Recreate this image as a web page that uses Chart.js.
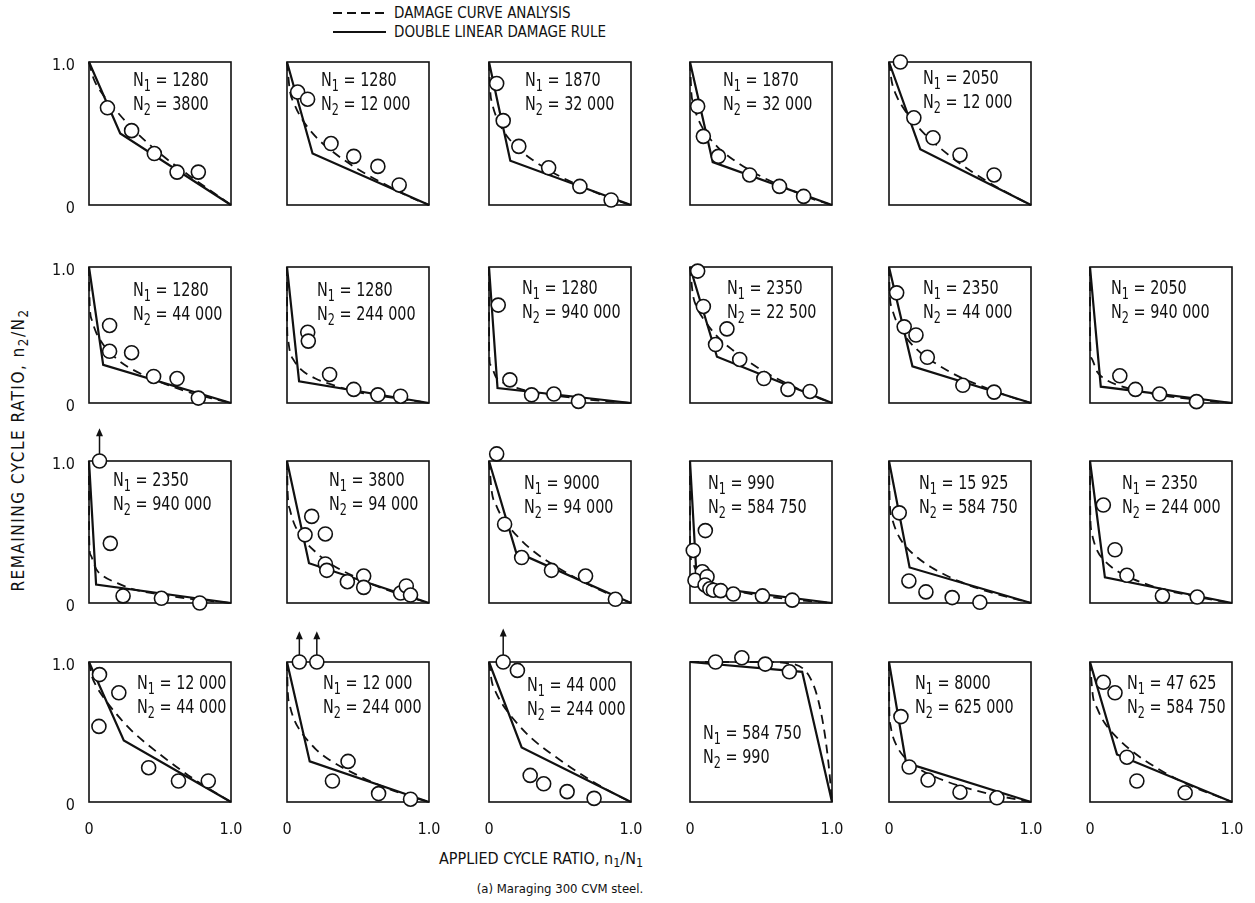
<!DOCTYPE html>
<html>
<head>
<meta charset="utf-8">
<script src="https://cdn.jsdelivr.net/npm/chart.js@4.4.1/dist/chart.umd.min.js"></script>
<style>
  body { margin: 0; width: 1255px; height: 903px; position: relative; overflow: hidden; background: #fff;
         font-family: 'Liberation Sans Narrow', 'DejaVu Sans Condensed', sans-serif; color: #111; }
  canvas { position: absolute; }
  .note { position: absolute; font-size: 20px; line-height: 24px; white-space: nowrap;
          transform: scaleX(0.8); transform-origin: left top; }
  .note sub, .title sub { font-size: 78%; vertical-align: -0.3em; line-height: 0; }
  .key { position: absolute; left: 333px; height: 18px; display: flex; align-items: center; font-size: 15px; white-space: nowrap; }
  .key svg { margin-right: 8px; }
  .title { position: absolute; font-size: 16px; white-space: nowrap; transform: translate(-50%, -50%); }
</style>
</head>
<body>

<div class="key" style="top:4px"><svg width="53" height="4"><line x1="0" y1="2" x2="53" y2="2" stroke="#111" stroke-width="1.8" stroke-dasharray="9 5"/></svg>DAMAGE CURVE ANALYSIS</div>
<div class="key" style="top:23px"><svg width="53" height="4"><line x1="0" y1="2" x2="53" y2="2" stroke="#111" stroke-width="2"/></svg>DOUBLE LINEAR DAMAGE RULE</div>

<div class="title" style="left:541px; top:858px">APPLIED CYCLE RATIO, n<sub>1</sub>/N<sub>1</sub></div>
<div class="title" style="left:18px; top:450px; font-size:17px; letter-spacing:1.5px; transform: translate(-50%, -50%) rotate(-90deg)">REMAINING CYCLE RATIO, n<sub>2</sub>/N<sub>2</sub></div>
<div class="title" style="left:560px; top:888px; font-size:13px">(a) Maraging 300 CVM steel.</div>

<script>
// one entry per panel, left to right, top to bottom
const panelN1 = ['1280', '1280', '1870', '1870', '2050',
  '1280', '1280', '1280', '2350', '2350', '2050',
  '2350', '3800', '9000', '990', '15 925', '2350',
  '12 000', '12 000', '44 000', '584 750', '8000', '47 625'];
const panelN2 = ['3800', '12 000', '32 000', '32 000', '12 000',
  '44 000', '244 000', '940 000', '22 500', '44 000', '940 000',
  '940 000', '94 000', '94 000', '584 750', '584 750', '244 000',
  '44 000', '244 000', '244 000', '990', '625 000', '584 750'];

// double linear damage rule: (0,1) -> knee -> (1,0)
const dldrKnee = [[0.22, 0.50], [0.18, 0.36], [0.15, 0.31], [0.16, 0.30], [0.22, 0.39],
  [0.10, 0.28], [0.085, 0.16], [0.06, 0.11], [0.19, 0.34], [0.165, 0.27], [0.076, 0.12],
  [0.05, 0.13], [0.155, 0.28], [0.19, 0.36], [0.05, 0.12], [0.145, 0.25], [0.105, 0.18],
  [0.245, 0.44], [0.16, 0.29], [0.23, 0.39], [0.79, 0.93], [0.12, 0.28], [0.19, 0.34]];

// damage curve analysis
const dcaCurve = [
  [[0, 1], [0.03, 0.89], [0.1, 0.77], [0.2, 0.65], [0.3, 0.54], [0.5, 0.36], [0.7, 0.21], [0.9, 0.07], [1, 0]],
  [[0, 1], [0.02, 0.80], [0.05, 0.71], [0.1, 0.61], [0.2, 0.48], [0.3, 0.39], [0.5, 0.25], [0.7, 0.14], [0.9, 0.04], [1, 0]],
  [[0, 1], [0.01, 0.78], [0.02, 0.72], [0.05, 0.62], [0.1, 0.52], [0.2, 0.40], [0.3, 0.32], [0.5, 0.20], [0.7, 0.11], [0.9, 0.03], [1, 0]],
  [[0, 1], [0.01, 0.78], [0.02, 0.72], [0.05, 0.62], [0.1, 0.52], [0.2, 0.40], [0.3, 0.32], [0.5, 0.20], [0.7, 0.11], [0.9, 0.03], [1, 0]],
  [[0, 1], [0.02, 0.86], [0.05, 0.77], [0.1, 0.68], [0.2, 0.55], [0.3, 0.45], [0.5, 0.29], [0.7, 0.16], [0.9, 0.05], [1, 0]],
  [[0, 1], [0.005, 0.72], [0.02, 0.61], [0.05, 0.52], [0.1, 0.43], [0.2, 0.32], [0.3, 0.25], [0.5, 0.155], [0.7, 0.08], [0.9, 0.025], [1, 0]],
  [[0, 1], [0.001, 0.57], [0.005, 0.48], [0.02, 0.38], [0.05, 0.31], [0.1, 0.245], [0.2, 0.18], [0.3, 0.14], [0.5, 0.08], [0.7, 0.045], [0.9, 0.015], [1, 0]],
  [[0, 1], [0.001, 0.39], [0.01, 0.28], [0.05, 0.19], [0.1, 0.15], [0.2, 0.11], [0.3, 0.08], [0.5, 0.05], [0.7, 0.025], [0.9, 0.007], [1, 0]],
  [[0, 1], [0.02, 0.80], [0.05, 0.70], [0.1, 0.61], [0.2, 0.48], [0.3, 0.39], [0.5, 0.245], [0.7, 0.135], [0.9, 0.04], [1, 0]],
  [[0, 1], [0.005, 0.80], [0.02, 0.70], [0.05, 0.605], [0.1, 0.51], [0.2, 0.39], [0.3, 0.31], [0.5, 0.19], [0.7, 0.105], [0.9, 0.03], [1, 0]],
  [[0, 1], [0.001, 0.45], [0.01, 0.33], [0.05, 0.23], [0.1, 0.18], [0.2, 0.13], [0.3, 0.10], [0.5, 0.058], [0.7, 0.03], [0.9, 0.009], [1, 0]],
  [[0, 1], [0.001, 0.47], [0.01, 0.34], [0.05, 0.24], [0.1, 0.19], [0.2, 0.14], [0.3, 0.10], [0.5, 0.06], [0.7, 0.03], [0.9, 0.01], [1, 0]],
  [[0, 1], [0.005, 0.77], [0.02, 0.66], [0.05, 0.56], [0.1, 0.47], [0.2, 0.36], [0.3, 0.28], [0.5, 0.175], [0.7, 0.094], [0.9, 0.03], [1, 0]],
  [[0, 1], [0.02, 0.78], [0.05, 0.69], [0.1, 0.59], [0.2, 0.47], [0.3, 0.375], [0.5, 0.24], [0.7, 0.13], [0.9, 0.04], [1, 0]],
  [[0, 1], [0.001, 0.415], [0.01, 0.30], [0.05, 0.21], [0.1, 0.164], [0.2, 0.118], [0.3, 0.089], [0.5, 0.052], [0.7, 0.027], [0.9, 0.008], [1, 0]],
  [[0, 1], [0.005, 0.71], [0.02, 0.60], [0.05, 0.51], [0.1, 0.42], [0.2, 0.32], [0.3, 0.25], [0.5, 0.15], [0.7, 0.08], [0.9, 0.025], [1, 0]],
  [[0, 1], [0.002, 0.62], [0.01, 0.51], [0.02, 0.46], [0.05, 0.37], [0.1, 0.30], [0.2, 0.22], [0.3, 0.17], [0.5, 0.10], [0.7, 0.054], [0.9, 0.016], [1, 0]],
  [[0, 1], [0.02, 0.90], [0.05, 0.83], [0.1, 0.75], [0.2, 0.62], [0.3, 0.51], [0.5, 0.34], [0.7, 0.19], [0.9, 0.06], [1, 0]],
  [[0, 1], [0.005, 0.80], [0.02, 0.69], [0.05, 0.59], [0.1, 0.50], [0.2, 0.38], [0.3, 0.30], [0.5, 0.19], [0.7, 0.10], [0.9, 0.03], [1, 0]],
  [[0, 1], [0.02, 0.86], [0.05, 0.78], [0.1, 0.69], [0.2, 0.56], [0.3, 0.455], [0.5, 0.30], [0.7, 0.165], [0.9, 0.05], [1, 0]],
  [[0, 1], [0.5, 1], [0.7, 0.99], [0.8, 0.95], [0.85, 0.88], [0.9, 0.74], [0.95, 0.48], [0.98, 0.23], [1, 0]],
  [[0, 1], [0.002, 0.66], [0.01, 0.55], [0.02, 0.495], [0.05, 0.41], [0.1, 0.33], [0.2, 0.245], [0.3, 0.19], [0.5, 0.114], [0.7, 0.06], [0.9, 0.018], [1, 0]],
  [[0, 1], [0.02, 0.76], [0.05, 0.67], [0.1, 0.57], [0.2, 0.45], [0.3, 0.36], [0.5, 0.225], [0.7, 0.12], [0.9, 0.04], [1, 0]]
];

// test data (open circles)
const testPoints = [
  [[0.13, 0.68], [0.30, 0.52], [0.46, 0.36], [0.62, 0.23], [0.77, 0.23]],
  [[0.075, 0.79], [0.145, 0.74], [0.31, 0.43], [0.47, 0.34], [0.64, 0.27], [0.79, 0.14]],
  [[0.054, 0.85], [0.10, 0.59], [0.21, 0.41], [0.42, 0.26], [0.64, 0.13], [0.86, 0.035]],
  [[0.054, 0.69], [0.094, 0.48], [0.20, 0.34], [0.42, 0.21], [0.63, 0.13], [0.80, 0.06]],
  [[0.08, 1.0], [0.175, 0.61], [0.31, 0.47], [0.50, 0.35], [0.74, 0.21]],
  [[0.145, 0.57], [0.145, 0.38], [0.30, 0.37], [0.455, 0.195], [0.62, 0.18], [0.77, 0.036]],
  [[0.146, 0.52], [0.15, 0.455], [0.30, 0.21], [0.47, 0.10], [0.64, 0.06], [0.80, 0.05]],
  [[0.065, 0.72], [0.147, 0.17], [0.30, 0.06], [0.457, 0.066], [0.63, 0.012]],
  [[0.054, 0.97], [0.094, 0.71], [0.26, 0.545], [0.18, 0.43], [0.35, 0.32], [0.52, 0.18], [0.69, 0.10], [0.845, 0.085]],
  [[0.054, 0.81], [0.107, 0.56], [0.19, 0.50], [0.27, 0.336], [0.52, 0.13], [0.74, 0.08]],
  [[0.06, 1.17], [0.21, 0.20], [0.32, 0.10], [0.49, 0.066], [0.75, 0.01]],
  [[0.074, 1.0], [0.15, 0.42], [0.24, 0.05], [0.51, 0.033], [0.78, 0.0]],
  [[0.127, 0.48], [0.174, 0.61], [0.27, 0.486], [0.27, 0.275], [0.28, 0.23], [0.425, 0.15], [0.54, 0.19], [0.54, 0.11], [0.80, 0.07], [0.84, 0.12], [0.87, 0.056]],
  [[0.054, 1.05], [0.11, 0.555], [0.23, 0.32], [0.44, 0.23], [0.68, 0.19], [0.89, 0.026]],
  [[0.023, 0.37], [0.108, 0.51], [0.087, 0.22], [0.035, 0.16], [0.12, 0.185], [0.106, 0.127], [0.14, 0.10], [0.165, 0.09], [0.216, 0.087], [0.305, 0.063], [0.51, 0.05], [0.72, 0.02]],
  [[0.072, 0.635], [0.14, 0.155], [0.26, 0.078], [0.445, 0.038], [0.64, 0.005]],
  [[0.094, 0.69], [0.176, 0.375], [0.26, 0.195], [0.51, 0.05], [0.755, 0.042]],
  [[0.074, 0.91], [0.21, 0.78], [0.07, 0.54], [0.42, 0.245], [0.63, 0.15], [0.84, 0.15]],
  [[0.087, 1.0], [0.21, 1.0], [0.43, 0.29], [0.32, 0.15], [0.645, 0.06], [0.87, 0.02]],
  [[0.10, 1.0], [0.20, 0.94], [0.29, 0.19], [0.385, 0.13], [0.55, 0.074], [0.74, 0.026]],
  [[0.18, 1.0], [0.365, 1.03], [0.53, 0.985], [0.70, 0.93], [0.76, 1.145]],
  [[0.084, 0.61], [0.142, 0.25], [0.275, 0.157], [0.50, 0.07], [0.76, 0.03]],
  [[0.094, 0.855], [0.176, 0.78], [0.26, 0.32], [0.33, 0.15], [0.67, 0.066]]
];

// run-outs marked with an up arrow: [x, from y, to y]
const runoutArrows = [[], [], [], [], [],
  [], [], [], [], [], [],
  [[0.074, 1.0, 1.23]], [], [], [], [], [],
  [], [[0.087, 1.0, 1.22], [0.21, 1.0, 1.22]], [[0.10, 1.0, 1.24]], [], [], []];

// page layout
const colLeft = [89, 287, 489, 690, 889, 1090];
const rowTop = [62, 267, 461, 662];
const rowHeight = [143, 136, 142, 140];
const panelWidth = 142;
const panelCells = [[0, 0], [0, 1], [0, 2], [0, 3], [0, 4],
  [1, 0], [1, 1], [1, 2], [1, 3], [1, 4], [1, 5],
  [2, 0], [2, 1], [2, 2], [2, 3], [2, 4], [2, 5],
  [3, 0], [3, 1], [3, 2], [3, 3], [3, 4], [3, 5]];
const noteOffset = [[44, 18], [34, 18], [36, 18], [33, 18], [34, 16],
  [44, 23], [30, 23], [33, 21], [37, 21], [34, 21], [21, 21],
  [24, 19], [42, 19], [35, 22], [18, 22], [30, 22], [32, 22],
  [48, 21], [36, 21], [38, 23], [13, 71], [26, 21], [37, 21]];

const AXIS_W = 40, AXIS_H = 40, PAD_T = 45, PAD_R = 20;
const FONT = "'Liberation Sans Narrow', 'DejaVu Sans Condensed', sans-serif";
const INK = '#111';
const RADIUS = 7;

const toXY = pts => pts.map(p => ({ x: p[0], y: p[1] }));

const framePlugin = {
    id: 'frame',
    beforeDatasetsDraw(chart) {
        const a = chart.chartArea;
        const ctx = chart.ctx;
        ctx.save();
        ctx.strokeStyle = INK;
        ctx.lineWidth = 1.6;
        ctx.strokeRect(a.left, a.top, a.right - a.left, a.bottom - a.top);
        ctx.restore();
    },
    afterDatasetsDraw(chart, args, opts) {
        const xs = chart.scales.x, ys = chart.scales.y;
        const ctx = chart.ctx;
        ctx.save();
        ctx.strokeStyle = INK;
        ctx.fillStyle = INK;
        ctx.lineWidth = 1.5;
        (opts.arrows || []).forEach(([x, y0, y1]) => {
            const px = xs.getPixelForValue(x);
            const pStart = ys.getPixelForValue(y0) - RADIUS;
            const pEnd = ys.getPixelForValue(y1);
            ctx.beginPath();
            ctx.moveTo(px, pStart);
            ctx.lineTo(px, pEnd + 6);
            ctx.stroke();
            ctx.beginPath();
            ctx.moveTo(px, pEnd);
            ctx.lineTo(px - 3.5, pEnd + 8);
            ctx.lineTo(px + 3.5, pEnd + 8);
            ctx.closePath();
            ctx.fill();
        });
        ctx.restore();
    }
};

function unitAxis(showTicks, size, isX) {
    return {
        type: 'linear', min: 0, max: 1,
        afterBuildTicks: s => { s.ticks = [{ value: 0 }, { value: 1 }]; },
        afterFit: s => {
            if (isX) { s.height = size; s.paddingLeft = 0; s.paddingRight = 0; }
            else { s.width = size; s.paddingTop = 0; s.paddingBottom = 0; }
        },
        grid: { display: false, drawTicks: false },
        border: { display: false },
        ticks: {
            display: showTicks, autoSkip: false, maxRotation: 0,
            padding: isX ? 18 : 14,
            labelOffset: isX ? 0 : 4,
            color: INK, font: { family: FONT, size: 16 },
            callback: v => (v === 1 ? '1.0' : '0')
        }
    };
}

panelCells.forEach(([r, c], i) => {
    const h = rowHeight[r];
    const canvas = document.createElement('canvas');
    canvas.width = AXIS_W + panelWidth + PAD_R;
    canvas.height = PAD_T + h + AXIS_H;
    canvas.style.left = (colLeft[c] - AXIS_W) + 'px';
    canvas.style.top = (rowTop[r] - PAD_T) + 'px';
    document.body.appendChild(canvas);

    const knee = dldrKnee[i];
    new Chart(canvas, {
        type: 'scatter',
        data: {
            datasets: [
                {
                    data: toXY(testPoints[i]),
                    pointRadius: RADIUS, pointBorderWidth: 1.6,
                    pointBorderColor: INK, pointBackgroundColor: '#fff',
                    clip: false, order: 0
                },
                {
                    data: toXY([[0, 1], knee, [1, 0]]),
                    showLine: true, borderColor: INK, borderWidth: 2.2,
                    pointRadius: 0, clip: false, order: 1
                },
                {
                    data: toXY(dcaCurve[i]),
                    showLine: true, borderColor: INK, borderWidth: 1.8,
                    borderDash: [9, 6], cubicInterpolationMode: 'monotone',
                    pointRadius: 0, clip: false, order: 2
                }
            ]
        },
        options: {
            responsive: false,
            animation: false,
            events: [],
            layout: { autoPadding: false, padding: { top: PAD_T, right: PAD_R, left: 0, bottom: 0 } },
            scales: {
                x: unitAxis(r === 3, AXIS_H, true),
                y: unitAxis(c === 0, AXIS_W, false)
            },
            plugins: {
                legend: { display: false },
                tooltip: { enabled: false },
                frame: { arrows: runoutArrows[i] }
            }
        },
        plugins: [framePlugin]
    });

    const note = document.createElement('div');
    note.className = 'note';
    note.style.left = (colLeft[c] + noteOffset[i][0]) + 'px';
    note.style.top = (rowTop[r] + noteOffset[i][1] - 13) + 'px';
    note.innerHTML = 'N<sub>1</sub> = ' + panelN1[i] + '<br>N<sub>2</sub> = ' + panelN2[i];
    document.body.appendChild(note);
});
</script>
</body>
</html>
